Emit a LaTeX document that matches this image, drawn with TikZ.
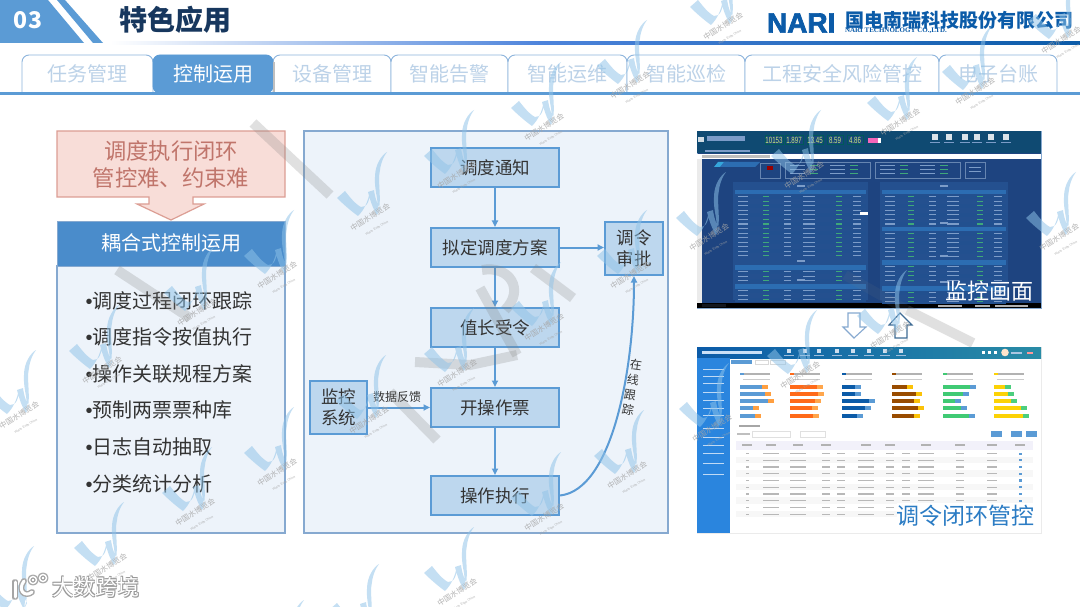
\documentclass[tikz,border=0pt]{standalone}
\usepackage{fontspec}
\setmainfont{Noto Sans CJK SC}
\newfontfamily\latinsans{Liberation Sans}
\newfontfamily\latinserif{Liberation Serif}
\newfontfamily\narifont[FakeBold=2.5]{Liberation Sans Bold}
\usetikzlibrary{arrows.meta}
\newcommand{\fz}[1]{\fontsize{#1}{#1}\selectfont}
\definecolor{hdrblue}{HTML}{5B9BD5}
\definecolor{tabtxt}{HTML}{BCD2E8}
\definecolor{tabline}{HTML}{8DB4DC}
\definecolor{navy}{HTML}{17375E}
\definecolor{narib}{HTML}{0B5BA8}
\definecolor{panelbg}{HTML}{EDF3FA}
\definecolor{panelln}{HTML}{86A9D0}
\definecolor{stepfill}{HTML}{BDD7EE}
\definecolor{bodytxt}{HTML}{333333}
\definecolor{pinkf}{HTML}{F8DDD8}
\definecolor{pinkl}{HTML}{DC9E94}
\definecolor{pinkt}{HTML}{C0756B}
\definecolor{coupled}{HTML}{4A8CCB}
\definecolor{scrtop}{HTML}{0F4A72}
\definecolor{scrbody}{HTML}{1E4480}
\definecolor{scrband}{HTML}{24508F}
\definecolor{scrhead}{HTML}{2C6DB2}
\definecolor{scrgreen}{HTML}{3FA87A}
\definecolor{scrpale}{HTML}{7C9CC8}
\definecolor{scrnum}{HTML}{CDE87C}
\definecolor{sidebl}{HTML}{2A85DE}
\definecolor{wmblue}{HTML}{8FC3E8}
\definecolor{wmgray}{HTML}{A5A5A5}
\definecolor{shot2t}{HTML}{2B7CC4}
\newcounter{wmc}
\newcommand{\wshape}{%
  \fill[wmblue,opacity=.52]
     (-36,-24) -- (-28,-31) .. controls (-24,-26) and (-18,-18) .. (-12,-15) -- (-15,-6) .. controls (-22,-11) and (-30,-18) .. cycle
     (-15,-6) .. controls (-9,-12) and (-5,-20) .. (-3,-31) .. controls (-3,-22) and (-6,-14) .. (-12,-15) -- cycle
     (-5,-30) -- (1,-32) .. controls (2,-24) and (5,-16) .. (7,-13) -- (4,-7) .. controls (0,-13) and (-3,-22) .. cycle
     (4,-7) .. controls (10,-20) and (4,-40) .. (7,-52) .. controls (8,-60) and (11,-66) .. (14,-70) .. controls (9,-67) and (2,-58) .. (2,-45) .. controls (1,-30) and (7,-20) .. (4,-7) -- cycle;
}
\newcommand{\wmark}[2]{%
 \stepcounter{wmc}%
 \begin{scope}[shift={(#1,#2)}]
  \wshape
  \node[rotate=32,align=center,text=wmgray,opacity=.85,inner sep=0] (wm\thewmc) at (0,0)
     {\fz{7.5}中国水博览会\\[-1pt]{\latinsans\fz{3.2}Water Expo China}};
 \end{scope}}
\newcommand{\wonly}[2]{\begin{scope}[shift={(#1,#2)}]\wshape\end{scope}}
\tikzset{
 x=1pt,y=-1pt,
 plain/.style={inner sep=0,outer sep=0},
 tabbox/.style={draw=tabline,line width=.9pt,fill=white,rounded corners=7pt},
 stepbox/.style={draw=hdrblue,line width=2pt,fill=stepfill,inner sep=0,text=bodytxt,align=center,font=\fz{17.5}},
 arr/.style={draw=hdrblue,line width=2pt,-{Triangle[length=6.5pt,width=6pt]}},
 bullettxt/.style={plain,anchor=west,text=bodytxt,font=\fz{20}},
 nari/.style={draw=black!50,line width=10pt,opacity=.24},
}
\begin{document}
\begin{tikzpicture}
\useasboundingbox (0,0) rectangle (1080,607);
\fill[white] (0,0) rectangle (1080,607);
% header
\fill[hdrblue] (0,0) -- (48,0) -- (84,43) -- (0,43) -- cycle;
\fill[hdrblue] (57,0) -- (65,0) -- (103,43) -- (93,43) -- cycle;
\node[plain,text=white,font=\fz{23}\bfseries] (secnum) at (28,20) {03};
\node[plain,text=navy,font=\fz{28}\bfseries] (title) at (175,20) {特色应用};
\shade[left color=white,right color=hdrblue!85!blue] (110,42) rectangle (540,44.2);
\shade[left color=hdrblue!85!blue,right color=narib] (540,42) rectangle (1080,44.2);
% logo
\node[plain,text=narib,font={\narifont\fz{28}},anchor=west] (narilogo) at (767,23) {NARI};
\node[plain,text=narib,font=\fz{19}\bfseries,anchor=west] (company) at (845,20) {国电南瑞科技股份有限公司};
\node[plain,text=narib,font={\latinserif\bfseries\fz{7}},anchor=west] (companyen) at (845,31) {NARI TECHNOLOGY CO.,LTD.};
% tabs
\foreach \a/\b/\t/\n in {22/153/任务管理/ta,273/391/设备管理/tc,391/508/智能告警/td,508/627/智能运维/te,627/745/智能巡检/tf,745/939/工程安全风险管控/tg,939/1057/电子台账/th}{
  \path[tabbox] (\a,93) -- (\a,55) -- (\b,55) -- (\b,93);
  \node[plain,text=tabtxt,font=\fz{20}] (\n) at ({(\a+\b)/2},74) {\t};
}
\path[tabbox,draw=hdrblue,fill=hdrblue] (153,93) -- (153,55) -- (273,55) -- (273,93) -- cycle;
\fill[black!25] (273,62) rectangle (274.5,92);
\node[plain,text=white,font=\fz{20}] (tb) at (213,74) {控制运用};
\fill[hdrblue] (0,92.5) rectangle (1080,95);
% left column
\path[draw=pinkl,fill=pinkf,line width=1.2pt] (57,131) -- (285,131) -- (285,197) -- (193,197) -- (193,204) -- (204,204) -- (171,220) -- (137,204) -- (149,204) -- (149,197) -- (57,197) -- cycle;
\node[plain,text=pinkt,font=\fz{22.3}] (hard1) at (171,151) {调度执行闭环};
\node[plain,text=pinkt,font=\fz{22.3}] (hard2) at (171,178) {管控难、约束难};
\path[draw=panelln,fill=panelbg,line width=1.3pt] (57,266) rectangle (285,533);
\path[draw=panelln,fill=coupled,line width=.8pt] (57,221) rectangle (285,266);
\node[plain,text=white,font=\fz{20}] (coupledhd) at (171,243) {耦合式控制运用};
\foreach \y/\t/\n in {301/调度过程闭环跟踪/b1,337/调度指令按值执行/b2,374/操作关联规程方案/b3,410/预制两票票种库/b4,447/日志自动抽取/b5,484/分类统计分析/b6}{
  \node[bullettxt] (\n) at (85.5,\y) {{\latinsans •}\t};
}
% centre panel
\path[draw=panelln,fill=panelbg,line width=1.2pt] (304,131) rectangle (668,533);
\node[stepbox,minimum width=128pt,minimum height=39pt] (s1) at (495,167.5) {调度通知};
\node[stepbox,minimum width=128pt,minimum height=39pt] (s2) at (495,247.5) {拟定调度方案};
\node[stepbox,minimum width=128pt,minimum height=39pt] (s3) at (495,327.5) {值长受令};
\node[stepbox,minimum width=128pt,minimum height=39pt] (s4) at (495,407.5) {开操作票};
\node[stepbox,minimum width=128pt,minimum height=39pt] (s5) at (495,495.5) {操作执行};
\node[stepbox,minimum width=58pt,minimum height=53pt] (appr) at (634,248.5) {调令\\[3pt]审批};
\node[stepbox,minimum width=57pt,minimum height=53pt] (mon) at (338.5,407.5) {监控\\[3pt]系统};
\draw[arr] (s1) -- (s2);
\draw[arr] (s2) -- (s3);
\draw[arr] (s3) -- (s4);
\draw[arr] (s4) -- (s5);
\draw[arr] (s2.east) -- (s2.east -| appr.west);
\draw[arr] (mon.east) -- (s4.west);
\draw[arr] (s5.east) .. controls (612,490) and (634,370) .. (appr.south);
\node[plain,text=bodytxt,font=\fz{12}] (feedback) at (397,397) {数据反馈};
\node[plain,text=bodytxt,font=\fz{12},rotate=-8] (tr1) at (636,365) {在};
\node[plain,text=bodytxt,font=\fz{12},rotate=-8] (tr2) at (633,380) {线};
\node[plain,text=bodytxt,font=\fz{12},rotate=-8] (tr3) at (630,395) {跟};
\node[plain,text=bodytxt,font=\fz{12},rotate=-8] (tr4) at (628,410) {踪};
% hollow arrows
\path[draw=panelln,fill=white,line width=1.1pt] (848,313) -- (860,313) -- (860,327) -- (866,327) -- (854,338) -- (843,327) -- (848,327) -- cycle;
\path[draw=hdrblue!70!black,fill=white,line width=1.1pt] (895,338) -- (907,338) -- (907,325) -- (912,325) -- (900,313) -- (889,325) -- (895,325) -- cycle;
% screenshot 1
\draw[panelln,line width=.8pt,fill=scrbody] (697,131) rectangle (1041,308);
\fill[scrtop] (697,131) rectangle (1041,153);
\fill[white] (697,154) rectangle (1041,159);
\fill[black!8] (697,159) rectangle (702,303);
\fill[black] (697,303) rectangle (1041,308);
\fill[black!25] (702,155) rectangle (770,158);
\fill[white!80!scrtop] (698,137) rectangle (704,142);
\fill[scrpale] (707,136) rectangle (745,141);
\fill[scrpale] (705,150) rectangle (750,152);
\foreach \xa/\xb/\t/\n in {765/783/10153/v1,785/803/1.897/v2,807/823/13.45/v3,827/843/8.59/v4,847/863/4.86/v5}{
  \path[fill=scrbody!55!scrtop,draw=teal!70!black,line width=.3pt] (\xa,135) rectangle (\xb,144);
  \node[plain,text=scrnum,font={\latinsans\fz{9}},xscale=.68] (\n) at ({(\xa+\xb)/2},140) {\t};
}
\fill[white] (878,138) rectangle (881,143);
\fill[magenta!60!white] (868,138) rectangle (878,143);
\foreach \x in {935,949,965,977,991,1006}{
  \fill[white!85!scrtop] (\x-3,134) rectangle (\x+3,140);
  \fill[scrpale] (\x-5,142) rectangle (\x+5,143);
}
\fill[cyan!60!hdrblue] (714,167) -- (718,162) -- (729,162) -- (725,167) -- cycle;
\fill[scrhead] (720,167) -- (724,162) -- (760,162) -- (755,167) -- cycle;
\draw[scrband!70!white,line width=.3pt] (760,163) rectangle (780,178);
\fill[red!60!black] (767,166) rectangle (773,170);
\draw[scrband!70!white,line width=.3pt] (785,162) rectangle (870,178);
\draw[scrband!70!white,line width=.3pt] (875,162) rectangle (960,178);
\draw[scrband!70!white,line width=.3pt] (965,162) rectangle (985,178);
\fill[scrpale] (969,167) rectangle (981,168.3);
\fill[scrpale] (969,171) rectangle (981,172.3);
\foreach \px in {790,830,880,920}{
  \foreach \py in {165,169,173}{
    \fill[scrpale] (\px,\py) rectangle (\px+15,\py+1);
    \fill[scrgreen] (\px+20,\py) rectangle (\px+28,\py+1);
  }
}
\fill[scrband] (733,182) rectangle (868,300);
\fill[scrband] (880,182) rectangle (1008,300);
\foreach \xa/\xb/\ys/\n in {733/868/190/14,733/868/265/3,733/868/284/3,880/1008/190/7,880/1008/227/6,880/1008/260/4,880/1008/286/3}{
  \fill[scrhead] (\xa+2,\ys) rectangle (\xb-2,\ys+4.5);
  \fill[scrpale] ({(\xa+\xb)/2-4},\ys-5) rectangle ({(\xa+\xb)/2+4},\ys-3);
  \foreach \i in {1,...,\n}{
    \pgfmathsetmacro{\yy}{\ys+4.55*\i}
    \pgfmathsetmacro{\w}{\xb-\xa}
    \ifodd\i\fill[scrbody!70!scrhead] (\xa+2,\yy) rectangle (\xb-2,\yy+4.2);\fi
    \foreach \fr/\ww/\cc in {.04/10/scrpale,.22/6/scrgreen,.38/7/scrpale,.52/12/scrpale,.76/6/scrgreen,.89/8/scrpale}{
      \fill[\cc] (\xa+\fr*\w,\yy+1.6) rectangle (\xa+\fr*\w+\ww,\yy+2.7);
    }
  }
}
\fill[white] (860,212) rectangle (868,215);
\fill[black!85!scrpale] (702,304) rectangle (726,307);
\foreach \xa/\xb in {938/962,975/990,995/1028}{\fill[black!30] (\xa,305) rectangle (\xb,306.5);}
\node[plain,text=white,font=\fz{22}] (mon2) at (989,291) {监控画面};
% screenshot 2
\draw[black!8,line width=.6pt,fill=white] (697,347) rectangle (1041,533);
\shade[left color=narib,right color=teal!55!hdrblue] (697,347) rectangle (1041,358);
\fill[sidebl] (697,358) rectangle (730,533);
\fill[white!75!sidebl] (702,351) rectangle (762,354);
\foreach \x in {789,805,819,837,853,869,885,901}{
  \fill[white!80!narib] (\x-2,349) rectangle (\x+2,353);
  \fill[white!60!narib] (\x-5,355) rectangle (\x+5,356);
}
\foreach \x in {982,988,994}{\fill[white] (\x,351) rectangle (\x+3,354);}
\fill[white!80!orange] (1005,352.5) circle (3.8pt);
\fill[white!65!narib] (1011,352) rectangle (1022,354);
\fill[white!60!red] (1027,352) rectangle (1033,354);
\foreach \y in {369,376,383,392,400,408,415,428,437,445,453,463,474}{
  \fill[white!70!sidebl] (703,\y) rectangle (724,\y+1.3);
}
\fill[hdrblue] (731,359.5) rectangle (752,364);
\draw[black!15,line width=.4pt] (755,360) rectangle (768,364);
\draw[black!15,line width=.4pt] (770,360) rectangle (785,364);
\foreach \cx/\ca/\cb/\cc/\lst in {
  740/hdrblue/orange!75!white/yellow!60!orange!40!white/{22,25,28,13,15},
  790/orange!70!red!90!white/orange!70!white/yellow!60!white/{27,28,25,22,23},
  842/narib/hdrblue/cyan!30!white/{13,13,27,23,15},
  892/orange!60!black/yellow!55!orange/yellow!40!white/{15,24,22,26,22},
  943/teal!55!green!75!white/hdrblue/cyan!30!white/{27,20,12,18,26},
  994/yellow!70!orange/teal!55!green!70!white/green!20!white/{11,14,17,27,29}}{
  \fill[\ca] (\cx,373) rectangle (\cx+4,375);
  \fill[black!30] (\cx+4,373) rectangle (\cx+30,375);
  \fill[black!20] (\cx+3,379) rectangle (\cx+30,380);
  \foreach \L [count=\i from 0] in \lst {
    \pgfmathsetmacro{\yb}{384.5+7.3*\i}
    \fill[\cb] (\cx,\yb) rectangle (\cx+\L+6,\yb+4);
    \fill[\ca] (\cx,\yb) rectangle (\cx+\L,\yb+4);
  }
}
\fill[black!35] (739,425) rectangle (760,427);
\fill[black!25] (737,433) rectangle (750,435);
\draw[black!12,line width=.4pt] (752,431) rectangle (790,437);
\draw[black!12,line width=.4pt] (800,431) rectangle (825,437);
\foreach \x in {991,1011,1026}{\fill[hdrblue] (\x,431) rectangle (\x+11,437);}
\fill[cyan!22!blue!5!white] (736,441) rectangle (1033,450);
\foreach \c in {747,771,798,826,866,890,926,960,992,1020}{
  \fill[black!30] (\c-5,444) rectangle (\c+5,446);
}
\foreach \i in {0,...,9}{
  \pgfmathsetmacro{\yy}{450+6.73*\i}
  \pgfmathtruncatemacro{\oddq}{mod(\i,2)}
  \ifnum\oddq=1 \fill[black!3] (736,\yy) rectangle (1033,\yy+6.73);\fi
  \foreach \c/\ww in {747/1.5,771/8,798/8,826/4,841/4,866/8,890/4,906/4,926/8,960/4,992/5,1020/1.5}{
    \ifnum\c<1000
      \fill[black!28] (\c-\ww,\yy+3) rectangle (\c+\ww,\yy+4.2);
    \else
      \fill[hdrblue] (\c-\ww,\yy+2.5) rectangle (\c+\ww,\yy+4.7);
    \fi
  }
}
\fill[white] (897,503) rectangle (1036,530);
\node[plain,text=shot2t,font=\fz{23}] (closedloop) at (965,516) {调令闭环管控};
% big grey NARI overlay
\draw[nari] (117,270) -- (190,318);
\draw[nari] (253,123) -- (330,195);
\draw[nari] (390,392) -- (437,440);
\draw[nari] (415,362) -- (470,365) -- (517,355);
\draw[nari] (480,288) -- (517,355);
\draw[nari] (482,270) .. controls (510,265) and (525,290) .. (505,310);
\draw[nari] (533,268) -- (573,298);
\draw[nari,opacity=.1] (845,275) -- (907,310);
\draw[nari] (907,310) -- (973,343);
% water expo watermark
\foreach \p/\q in {22/420,105/375,200/317,280/280,373/222,460/180,547/132,633/90,726/31,
  110/572,198/517,280/477,372/425,460/378,547/332,633/280,712/242,807/180,903/127,978/96,1064/45,
  460/597,547/522,630/480,715/433,803/380,893/340,1062/242}{
  \wmark{\p}{\q}
}
\wonly{20}{616}\wonly{365}{634}\wonly{290}{670}
% bottom-left badge
\foreach \dx/\dy in {-.7/-.7,.7/.7,-.7/.7,.7/-.7}{
  \draw[black!35,line width=4pt,shift={(\dx,\dy)},line cap=round] (15,582) -- (15,597);
  \draw[black!35,line width=4pt,shift={(\dx,\dy)},line cap=round] (24,581) .. controls (17,590) and (25,598) .. (32,592);
  \draw[black!35,line width=2.2pt,shift={(\dx,\dy)}] (33,580) circle (3.5pt);
  \draw[black!35,line width=2.2pt,shift={(\dx,\dy)}] (43,578) circle (3.5pt);
}
\draw[white,line width=3pt,line cap=round] (15,582) -- (15,597);
\draw[white,line width=3pt,line cap=round] (24,581) .. controls (17,590) and (25,598) .. (32,592);
\draw[white,line width=1.4pt] (33,580) circle (3.5pt);
\draw[white,line width=1.4pt] (43,578) circle (3.5pt);
\foreach \dx/\dy/\n in {-.8/-.8/a,.8/.8/b,-.8/.8/c,.8/-.8/d}{
  \node[plain,text=black!40,font=\fz{22}] (badge\n) at (96+\dx,587+\dy) {大数跨境};
}
\node[plain,text=white,font=\fz{22}] (badge) at (96,587) {大数跨境};
\end{tikzpicture}
\end{document}
